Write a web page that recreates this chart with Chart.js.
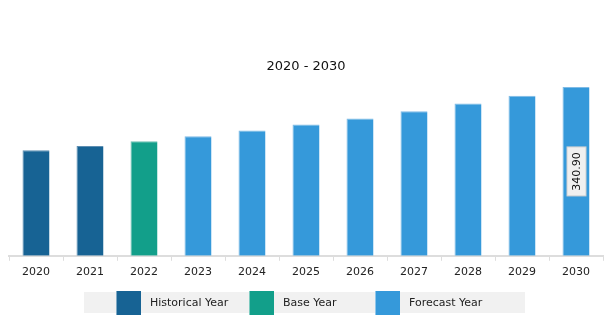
<!DOCTYPE html>
<html>
<head>
<meta charset="utf-8">
<script src="https://cdn.jsdelivr.net/npm/chart.js@4"></script>
<style>
  html, body { margin: 0; padding: 0; background: #fff; }
  #wrap { position: relative; width: 616px; height: 325px; }
  #grafico { display: block; }
  #legend { position: absolute; left: 84px; top: 292px; width: 441px; height: 21px; background: #f1f1f1; }
  .box { position: absolute; top: -1px; width: 25px; height: 24px; box-sizing: border-box; border-left: 1px solid rgba(255,255,255,0.45); }
  .lbl { position: absolute; top: 0; font: 11px "DejaVu Sans", sans-serif; line-height: 21px; color: #222; white-space: nowrap; }
</style>
</head>
<body>
<div id="wrap">
  <canvas id="grafico" width="616" height="325"></canvas>
  <div id="legend"></div>
</div>
<script>
var anos = ["2020", "2021", "2022", "2023", "2024", "2025", "2026", "2027", "2028", "2029", "2030"];
var valores = [213.1, 221.8, 231.3, 241.5, 253.0, 265.2, 277.4, 292.2, 307.8, 323.3, 340.9];
var tipos = ["Historical Year", "Historical Year", "Base Year", "Forecast Year", "Forecast Year", "Forecast Year",
             "Forecast Year", "Forecast Year", "Forecast Year", "Forecast Year", "Forecast Year"];
var legendaNomes = ["Historical Year", "Base Year", "Forecast Year"];
var rotuloValor = "340.90";

var cores = {
    "Historical Year": "#176394",
    "Base Year": "#129f8a",
    "Forecast Year": "#3599da"
};
var bordas = {
    "Historical Year": "#5d8eb2",
    "Base Year": "#6dbfb1",
    "Forecast Year": "#7fbbe6"
};

//rotulo do ultimo ano
var rotuloPlugin = {
    id: "rotulo",
    afterDatasetsDraw: function (chart) {
        var meta = chart.getDatasetMeta(0);
        var el = meta.data[meta.data.length - 1];
        var ctx = chart.ctx;
        var cy = (el.y + el.base) / 2;
        ctx.save();
        ctx.translate(el.x + 0.5, cy);
        ctx.rotate(-Math.PI / 2);
        ctx.fillStyle = "#f0f0f0";
        ctx.strokeStyle = "#d0d0d0";
        ctx.lineWidth = 1;
        ctx.fillRect(-24.5, -9.5, 49, 19);
        ctx.strokeRect(-24.5, -9.5, 49, 19);
        ctx.fillStyle = "#111";
        ctx.font = "11px 'DejaVu Sans'";
        ctx.textAlign = "center";
        ctx.textBaseline = "middle";
        ctx.fillText(rotuloValor, 0, 0.5);
        ctx.restore();
    }
};

var ctx = document.getElementById("grafico");
var grafico = new Chart(ctx, {
    type: "bar",
    data: {
        labels: anos,
        datasets: [{
            label: "",
            data: valores,
            backgroundColor: tipos.map(function (t) { return cores[t]; }),
            borderColor: tipos.map(function (t) { return bordas[t]; }),
            borderWidth: { top: 1, left: 1, right: 0, bottom: 0 },
            barPercentage: 0.5,
            categoryPercentage: 1.0
        }]
    },
    options: {
        responsive: false,
        animation: false,
        layout: {
            padding: { left: 9, right: 13, top: 0, bottom: 41 }
        },
        plugins: {
            legend: { display: false },
            tooltip: { enabled: false },
            title: {
                display: true,
                text: "2020 - 2030",
                color: "#111",
                font: { family: "DejaVu Sans", size: 13, weight: "normal" },
                padding: { top: 59, bottom: 3 }
            }
        },
        scales: {
            x: {
                grid: {
                    display: true,
                    drawOnChartArea: false,
                    drawTicks: true,
                    tickLength: 5,
                    color: "#dddddd"
                },
                border: { display: true, color: "#dddddd", width: 2 },
                ticks: {
                    color: "#222",
                    padding: 5,
                    font: { family: "DejaVu Sans", size: 11 }
                }
            },
            y: {
                display: false,
                min: 0,
                max: 360
            }
        }
    },
    plugins: [rotuloPlugin]
});

//legenda
var posBox = [32, 165, 291];
var legenda = document.getElementById("legend");
for (var i = 0; i < legendaNomes.length; i++) {
    var b = document.createElement("div");
    b.className = "box";
    b.style.left = posBox[i] + "px";
    b.style.background = cores[legendaNomes[i]];
    legenda.appendChild(b);
    var l = document.createElement("div");
    l.className = "lbl";
    l.style.left = (posBox[i] + 34) + "px";
    l.textContent = legendaNomes[i];
    legenda.appendChild(l);
}
</script>
</body>
</html>
